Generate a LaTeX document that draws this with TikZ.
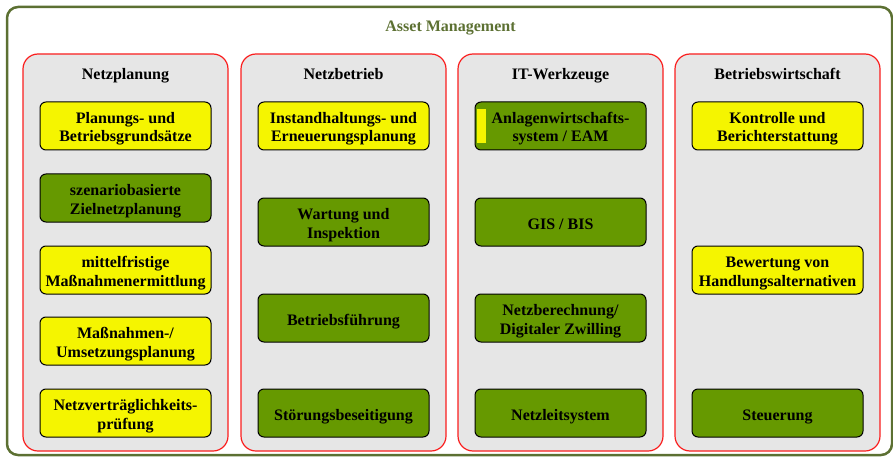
\documentclass[tikz,border=0pt]{standalone}
\usepackage{fontspec}
\setmainfont{Liberation Serif}
\definecolor{frameolive}{RGB}{92,112,50}
\definecolor{colred}{RGB}{250,30,30}
\definecolor{colgray}{RGB}{230,230,230}
\definecolor{boxyellow}{RGB}{245,245,0}
\definecolor{boxgreen}{RGB}{102,153,0}
\newcommand{\twolines}[2]{\begin{tabular}[t]{@{}c@{}}#1\\#2\end{tabular}}
\tikzset{
  outerframe/.style={draw=frameolive, line width=2.5pt, rounded corners=11pt},
  column/.style={draw=colred, line width=1.2pt, fill=colgray, rounded corners=15pt,
    minimum width=205pt, minimum height=397pt, inner sep=0pt},
  header/.style={font=\fontsize{16}{19}\selectfont\bfseries, inner sep=0pt, anchor=base},
  itembox/.style={draw=black, line width=1pt, rounded corners=6pt,
    minimum width=171pt, minimum height=48pt, inner sep=0pt,
    font=\fontsize{16}{18.5}\selectfont\bfseries},
  oneline/.style={text height=16pt, text depth=2pt},
  twoline/.style={text height=12pt, text depth=17pt},
  ybox/.style={itembox, fill=boxyellow},
  gbox/.style={itembox, fill=boxgreen},
}
\begin{document}
\begin{tikzpicture}[x=1pt,y=-1pt]
\useasboundingbox (0,0) rectangle (893,457);
\draw[outerframe] (7,7) rectangle (892,455);
\node[header, text=frameolive] (title) at (450.5,32) {Asset Management};

% columns
\node[column] (c1) at (125.5,252.5) {};
\node[column] (c2) at (343.5,252.5) {};
\node[column] (c3) at (560.5,252.5) {};
\node[column] (c4) at (777.5,252.5) {};

\node[header] (h1) at (125.5,79.5) {Netzplanung};
\node[header] (h2) at (343.5,79.5) {Netzbetrieb};
\node[header] (h3) at (560.5,79.5) {IT-Werkzeuge};
\node[header] (h4) at (777.5,79.5) {Betriebswirtschaft};

% column 1
\node[ybox, twoline] (p1) at (125.5,126) {\twolines{Planungs- und}{Betriebsgrundsätze}};
\node[gbox, twoline] (p2) at (125.5,198) {\twolines{szenariobasierte}{Zielnetzplanung}};
\node[ybox, twoline] (p3) at (125.5,270) {\twolines{mittelfristige}{Maßnahmenermittlung}};
\node[ybox, twoline] (p4) at (125.5,341) {\twolines{Maßnahmen-/}{Umsetzungsplanung}};
\node[ybox, twoline] (p5) at (125.5,413) {\twolines{Netzverträglichkeits-}{prüfung}};

% column 2
\node[ybox, twoline] (b1) at (343.5,126) {\twolines{Instandhaltungs- und}{Erneuerungsplanung}};
\node[gbox, twoline] (b2) at (343.5,222) {\twolines{Wartung und}{Inspektion}};
\node[gbox, oneline] (b3) at (343.5,318) {Betriebsführung};
\node[gbox, oneline] (b4) at (343.5,413) {Störungsbeseitigung};

% column 3
\node[gbox, twoline] (i1) at (560.5,126) {\twolines{Anlagenwirtschafts-}{system / EAM}};
\fill[boxyellow] (477,109) rectangle (486,143);
\node[gbox, oneline] (i2) at (560.5,222) {GIS / BIS};
\node[gbox, twoline] (i3) at (560.5,318) {\twolines{Netzberechnung/}{Digitaler Zwilling}};
\node[gbox, oneline] (i4) at (560.5,413) {Netzleitsystem};

% column 4
\node[ybox, twoline] (w1) at (777.5,126) {\twolines{Kontrolle und}{Berichterstattung}};
\node[ybox, twoline] (w2) at (777.5,270) {\twolines{Bewertung von}{Handlungsalternativen}};
\node[gbox, oneline] (w3) at (777.5,413) {Steuerung};
\end{tikzpicture}
\end{document}
